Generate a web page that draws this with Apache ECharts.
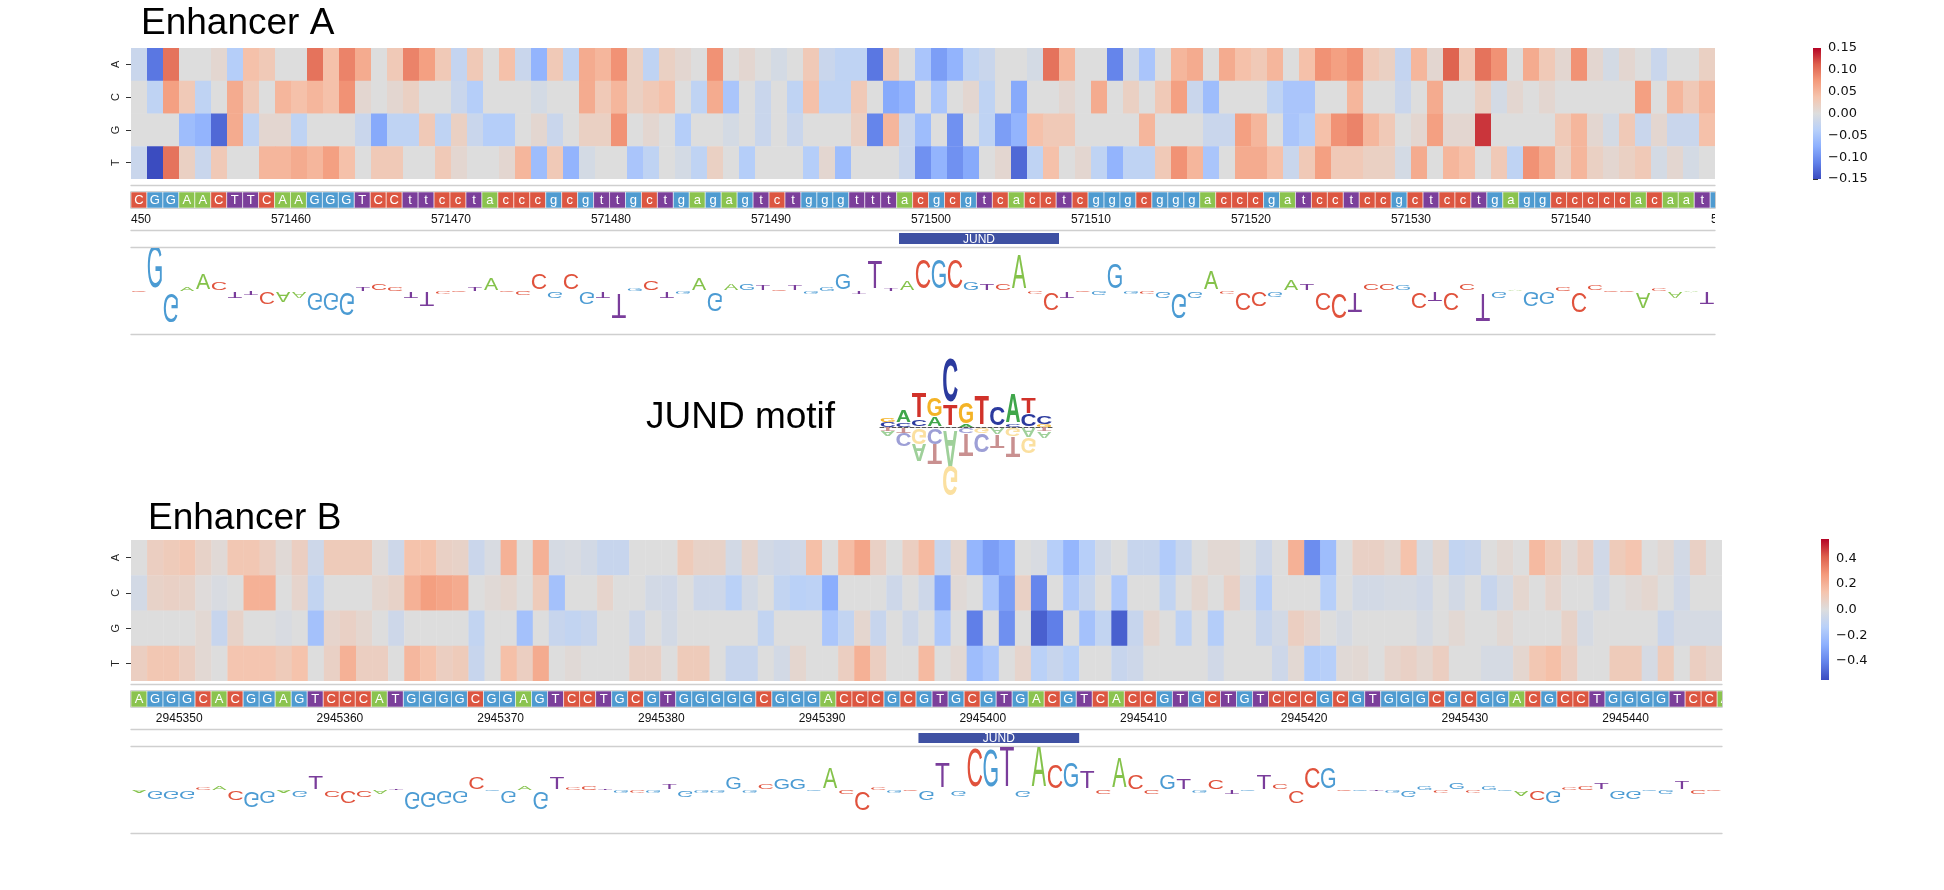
<!DOCTYPE html>
<html>
<head>
<meta charset="utf-8">
<title>Enhancer attribution maps</title>
<script src="https://cdn.jsdelivr.net/npm/echarts@6/dist/echarts.min.js"></script>
<style>
  html, body { margin: 0; padding: 0; background: #fff; }
  #chart { width: 1944px; height: 890px; }
</style>
</head>
<body>
<div id="chart"></div>
<script>
// ---- data ----
const bases = ['A', 'C', 'G', 'T'];

// Enhancer A: mutagenesis scores per base (99 columns), first column = 571450
const startA = 571450;
const seqA = 'CGGAACTTCAAGGGTCCttcctacccgcgttgctgagagtctgggtttacgcgtcacctcgggcgggacccgatcctccgctcctgaggcccccacaatg';
const heatA_A = [-0.02,-0.12,0.10,0,0,0.01,-0.04,0.04,0.03,0, 0,0.10,0.04,0.09,0.06,0,0.03,0.09,0.07,0.03,
  -0.025,0.03,0,0.04,-0.02,-0.07,0.03,-0.03,0.06,0.05, 0.08,0.02,-0.03,0.02,0.01,0,0.08,0,0.01,0,
  -0.01,0,0.03,-0.02,-0.03,-0.03,-0.12,0.03,0,-0.05, -0.09,-0.07,-0.03,-0.02,0,0,-0.01,0.10,0.05,0,
  0,-0.11,-0.01,-0.05,0,0.05,0.06,0,0.06,0.04, 0.03,0.05,0,0.04,0.08,0.07,0.08,0.03,0.02,-0.025,
  0.05,0.01,0.11,0.03,0.10,0.08,0,0.06,0.03,0.01, 0.08,0.01,-0.01,0.01,0,-0.02,0,0,0.02];
const heatA_C = [0,-0.03,0.07,0.03,-0.03,0,0.06,0.03,0,0.05, 0.04,0.05,0.04,0.08,0.01,0,0.01,0.02,0,0,
  -0.02,-0.04,0,0,0,-0.01,0,0,0.06,0.03, 0.05,0.02,0.03,0.04,0,-0.03,0.06,-0.05,0,-0.02,
  0,-0.03,0.04,-0.03,-0.03,0.03,0,-0.08,-0.07,0, -0.05,0,0.01,-0.03,0,-0.08,0,0,0.01,0,
  0.06,0,0.02,0,0.03,0.07,-0.02,-0.06,0,0, 0,-0.03,-0.05,-0.05,0,0,0.05,0,0,-0.02,
  0,0.06,0,0,0.02,-0.01,0.01,0,0.01,0, 0,0,0,0,0.07,0,0.05,0.03,0.05];
const heatA_G = [0,0,0,-0.06,-0.07,-0.13,0.06,-0.03,0.01,0.01, -0.03,0,0,0,-0.02,-0.08,-0.03,-0.03,0.03,-0.03,
  0.02,-0.02,-0.04,-0.04,0,0.01,-0.02,0,0.02,0.02, 0.08,0,0.01,0,-0.04,0,0,-0.01,0,-0.02,
  0,-0.02,0,0,0,0.02,-0.11,0.05,-0.02,-0.06, 0,-0.10,0,-0.03,-0.09,-0.07,0.04,0.03,0.03,0,
  0,0,0,0.05,0,0,0,-0.02,-0.02,0.07, 0.05,0,-0.05,-0.04,0.04,0.08,0.09,0.05,0.03,0,
  0.01,0.07,0.01,0.01,0.13,0,0,0,0,0.03, 0.05,0.01,-0.01,0.03,-0.02,0.01,-0.02,-0.02,0.04];
const heatA_T = [-0.02,-0.15,0.10,0.02,-0.02,0.03,0,0,0.05,0.05, 0.06,0.05,0.07,0.04,0,0.03,0.03,0,0,0.03,
  0.01,0,0,0.01,0.05,-0.06,0.03,-0.07,-0.01,0, 0,-0.05,-0.03,0,-0.01,-0.03,0.02,0,-0.04,0,
  0,0,-0.04,0.01,-0.06,0,0,0,-0.02,-0.10, -0.07,-0.10,-0.08,0,0.01,-0.13,-0.03,0.04,0,0.01,
  -0.03,-0.07,-0.03,-0.03,0.03,0.08,0.05,-0.05,0,0.06, 0.06,0.04,-0.02,0.03,0.07,0.03,0.03,0.02,0.02,-0.01,
  0.06,0,0.05,0.04,0,0.03,-0.03,0.08,0.06,0.02, 0.05,0.02,0.01,0.02,0.03,-0.01,0.01,-0.01,0];
// attribution of the reference base (letter height, signed)
const logoA = [-0.015,0.41,-0.29,0.04,0.16,0.08,-0.06,-0.04,-0.11,-0.10,
  -0.06,-0.17,-0.17,-0.22,0.04,0.06,0.04,-0.06,-0.14,-0.03,
  -0.01,0.04,0.11,-0.01,-0.04,0.16,-0.07,0.16,-0.11,-0.06,
  -0.24,0.02,0.09,-0.06,-0.03,0.11,-0.18,0.06,0.06,0.05,
  0.01,0.05,-0.02,0.04,0.16,-0.03,0.27,0.02,0.09,0.28,
  0.28,0.29,0.08,0.06,0.07,0.33,-0.02,-0.17,-0.06,-0.01,
  -0.04,0.24,-0.03,-0.03,-0.06,-0.24,-0.06,0.18,-0.03,-0.17,
  -0.14,-0.05,0.10,0.06,-0.17,-0.24,-0.19,0.06,0.06,0.05,
  -0.16,-0.09,-0.17,0.06,-0.27,-0.07,0.01,-0.14,-0.12,0.04,
  -0.19,0.05,-0.01,-0.01,-0.16,0.02,-0.07,-0.01,-0.11];
const rulerA = [571450,571460,571470,571480,571490,571500,571510,571520,571530,571540,571550];
const jundA = [571498, 571508];
const cbarTicksA = [-0.15,-0.10,-0.05,0,0.05,0.10,0.15];

// Enhancer B, first column = 2945347
const startB = 2945347;
const seqB = 'AGGGCACGGAGTCCCATGGGGCGGAGTCCTGCGTGGGGGCGGGACCCGCGTGCGTGACGTCACCGTGCTGTCCCGCGTGGGCGCGGACGCCTGGGGTCCA';
const heatB_A = [0,0.08,0.10,0.12,0.06,0.02,0.12,0.12,0.08,0.02, 0.08,-0.06,0.10,0.10,0.10,0.01,-0.06,0.14,0.14,0.07,
  0.06,-0.07,-0.02,0.20,0,0.20,-0.03,-0.02,-0.04,-0.08, -0.08,0,0,0,0.10,0.06,0.06,-0.04,0.05,-0.04,
  -0.06,-0.05,0.15,0,0.16,0.24,0.07,0,0.08,0.17, -0.08,0.04,-0.25,-0.33,-0.28,0,-0.02,-0.14,-0.25,-0.14,
  -0.04,0,-0.08,-0.08,-0.16,-0.08,0,0.03,0.03,0, -0.06,0,0.20,-0.38,-0.22,0,0.07,0.07,0.04,0.14,
  -0.03,0.04,-0.10,-0.08,0,0.03,0,0.17,0.10,0.02, 0.08,-0.05,0.10,0.13,0,0.03,-0.04,0.07,0];
const heatB_C = [-0.04,0.06,0.07,0.06,0.01,-0.02,0,0.20,0.20,0, 0.05,-0.10,0,0,0,0.04,0.06,0.20,0.26,0.24,
  0.22,0,0.02,0.04,0,0.10,-0.20,0,0,0.05, 0,0,-0.04,-0.05,0,-0.06,-0.06,-0.13,-0.04,0,
  -0.10,-0.13,-0.12,-0.28,0,0,0,-0.06,0,-0.06, -0.30,0.02,0,-0.18,-0.33,0.07,-0.40,0,-0.17,-0.08,
  0,-0.17,0,0,-0.10,0,0.04,0,0.07,-0.03, -0.14,0,0,0,-0.14,0,-0.04,-0.04,-0.03,-0.03,
  -0.05,0,-0.04,0,-0.08,-0.03,0.04,0,0.05,0, 0,-0.04,0,0.02,0.04,0,-0.05,0,0];
const heatB_G = [0,0,0,0,0.03,-0.08,0.06,0,0,-0.02, 0,-0.20,0.05,0.07,0.04,0,-0.06,0,0,0,
  0,-0.10,0,0,-0.20,0,-0.08,-0.10,-0.08,0, 0,-0.06,0,-0.04,0,0,0,0,0,-0.10,
  0,0,0,-0.18,-0.10,0.04,-0.08,0,-0.06,0, -0.17,0,-0.42,0,-0.37,0,-0.50,-0.42,0,-0.20,
  -0.10,-0.50,-0.08,0.04,0,-0.12,0,-0.15,0,0, -0.08,-0.04,0.08,0.05,0,-0.03,0,0,0,0,
  -0.03,0,0.03,0,0,0.03,0,0,0,0.06, -0.03,0,0,0,0,-0.07,-0.03,-0.03,-0.03];
const heatB_T = [0.08,0.12,0.12,0.08,0.03,0,0.13,0.13,0.13,0.10, 0.14,0,0.07,0.20,0.08,0.08,0,0.18,0.14,0.08,
  0.10,-0.08,0,0.15,0.08,0.22,0,0.02,0,0, 0,0.07,0.07,0,0.10,0.10,0,-0.08,-0.08,0,
  -0.04,0.04,0,0,0.08,0.20,0.08,0,0,0.17, 0,0.03,-0.22,-0.17,0,0.05,-0.13,-0.08,-0.13,0,
  0,-0.08,-0.06,0,0,0,0,-0.05,0,0, 0,-0.06,0.03,-0.15,-0.14,0.02,0.03,0,0.05,0.07,
  0.04,0.08,0,0,-0.03,-0.03,0.04,0.12,0.15,0.08, 0,0,0.10,0.10,-0.03,0.10,0,0.08,0.05];
const logoB = [-0.03,-0.08,-0.08,-0.08,0.03,0.04,-0.09,-0.15,-0.12,-0.03,
  -0.07,0.13,-0.06,-0.12,-0.06,-0.04,0.01,-0.17,-0.15,-0.13,
  -0.12,0.11,-0.01,-0.12,0.04,-0.17,0.12,0.03,0.04,0.01,
  -0.02,-0.02,-0.02,0.05,-0.06,-0.02,-0.02,0.11,-0.02,0.05,
  0.10,0.10,-0.01,0.21,-0.04,-0.18,0.03,-0.03,-0.01,-0.09,
  0.25,-0.05,0.37,0.36,0.40,-0.06,0.41,0.23,0.24,0.17,
  -0.04,0.30,0.14,-0.04,0.14,0.10,-0.03,0.09,-0.04,-0.01,
  0.14,0.05,-0.11,0.21,0.21,-0.01,-0.01,-0.01,-0.02,-0.07,
  0.04,-0.03,0.07,-0.02,0.04,-0.01,-0.05,-0.09,-0.11,0.03,
  0.04,0.07,-0.08,-0.08,-0.01,-0.04,0.08,-0.04,-0.01];
const rulerB = [2945350,2945360,2945370,2945380,2945390,2945400,2945410,2945420,2945430,2945440,2945450];
const jundB = [2945396, 2945406];
const cbarTicksB = [-0.4,-0.2,0,0.2,0.4];

// JUND motif: per column, letters stacked up from the baseline and down from it (bits)
const motifAbove = [
  [['C',0.23],['G',0.22]], [['C',0.2],['A',0.6]], [['C',0.35],['T',1.25]], [['A',0.45],['G',0.9]],
  [['T',1.05],['C',2.15]], [['A',0.1],['G',1.0]], [['T',1.45]], [['C',0.9]],
  [['C',0.1],['A',1.4]], [['C',0.6],['T',0.75]], [['G',0.1],['C',0.4]]
];
const motifBelow = [
  [['T',0.18],['A',0.25]], [['T',0.25],['C',0.65]], [['G',0.75],['A',0.85]], [['C',0.75],['T',1.0]],
  [['A',1.8],['G',1.5]], [['C',0.25],['T',1.1]], [['G',0.25],['C',0.9]], [['A',0.35],['T',0.65]],
  [['G',0.4],['T',1.0]], [['A',0.45],['G',0.8]], [['T',0.2],['A',0.3]]
];

// ---- styling ----
const FONT = '"Liberation Sans", Arial, Helvetica, sans-serif';
const SEQ_COL = { A: '#8bc34f', C: '#dc5641', G: '#4f9bd0', T: '#7b3f9a' };
const LOGO_COL = { A: '#84c24a', C: '#e0523c', G: '#4b9bd3', T: '#7a3d9b' };
const MOTIF_COL = { A: '#3fa64a', C: '#2b3a9e', G: '#f4b326', T: '#d1322a' };
const MOTIF_FADE = { A: '#9fd09a', C: '#9d9fd6', G: '#fbe0a0', T: '#c99090' };
const INK = { A: 0.66, C: 0.62, G: 0.66, T: 0.58 };
const CAP = 0.70;
const COOLWARM = ['#3b4cc0','#6282ea','#8db0fe','#b8d0f9','#dddddd','#f5c4ad','#f49a7b','#de604d','#b40426'];
const SEP = { color: '#cfcfcf', width: 1.3 };

function hexRgb(h) { return [1, 3, 5].map(k => parseInt(h.substr(k, 2), 16)); }
const CW_RGB = COOLWARM.map(hexRgb);
function cmap(v, vmax) {
  let t = (v + vmax) / (2 * vmax);
  t = Math.max(0, Math.min(1, t)) * (CW_RGB.length - 1);
  const i = Math.min(CW_RGB.length - 2, Math.floor(t)), f = t - i;
  const a = CW_RGB[i], b = CW_RGB[i + 1];
  return 'rgb(' + a.map((c, k) => Math.round(c + (b[k] - c) * f)).join(',') + ')';
}
function gradient() {
  return new echarts.graphic.LinearGradient(0, 1, 0, 0,
    COOLWARM.map((c, i) => ({ offset: i / (COOLWARM.length - 1), color: c })));
}
function txt(x, y, text, font, fill, extra) {
  return Object.assign({
    type: 'text', x: x, y: y,
    style: { text: text, font: font, fill: fill, align: 'center', verticalAlign: 'middle',
             textAlign: 'center', textVerticalAlign: 'middle' }
  }, extra || {});
}
// one stretched letter between two y pixels; flipped when it hangs below the baseline
function glyph(letter, cx, yA, yB, colW, fill, flip, bold) {
  const h = Math.max(0.6, Math.abs(yB - yA));
  const sx = colW * 0.88 / (INK[letter] * 100);
  const sy = h / (CAP * 100);
  return txt(cx, (yA + yB) / 2, letter, (bold ? 'bold ' : '') + '100px ' + FONT, fill,
    { scaleX: sx, scaleY: flip ? -sy : sy });
}

// ---- series renderers ----
function heatRender(vmax) {
  return function (params, api) {
    const col = api.value(0), row = api.value(1);
    const p0 = api.coord([col, row]), p1 = api.coord([col + 1, row]);
    const bh = api.size([0, 1])[1];
    return { type: 'rect', shape: { x: p0[0], y: p0[1] - bh / 2, width: p1[0] - p0[0] + 0.4, height: bh + 0.4 },
             style: { fill: cmap(api.value(2), vmax) } };
  };
}
function seqRender(seq) {
  return function (params, api) {
    const i = params.dataIndex, ch = seq[i];
    const p0 = api.coord([i, 1]), p1 = api.coord([i + 1, 0]);
    return { type: 'group', children: [
      { type: 'rect', shape: { x: p0[0], y: p0[1], width: p1[0] - p0[0], height: p1[1] - p0[1] },
        style: { fill: SEQ_COL[ch.toUpperCase()], stroke: 'rgba(255,255,255,0.55)', lineWidth: 1 } },
      txt((p0[0] + p1[0]) / 2, (p0[1] + p1[1]) / 2 + 0.5, ch, '13px ' + FONT, '#fff')
    ] };
  };
}
function rulerRender(start) {
  return function (params, api) {
    const v = api.value(0);
    const p = api.coord([v - start, 0]);
    return txt(p[0], p[1], String(v), '12px ' + FONT, '#111');
  };
}
function siteRender(start) {
  return function (params, api) {
    const p0 = api.coord([api.value(0) - start, 1]), p1 = api.coord([api.value(1) - start, 0]);
    return { type: 'group', children: [
      { type: 'rect', shape: { x: p0[0], y: p0[1], width: p1[0] - p0[0], height: p1[1] - p0[1] },
        style: { fill: '#3f51a3' } },
      txt((p0[0] + p1[0]) / 2, (p0[1] + p1[1]) / 2 + 1, 'JUND', '12px ' + FONT, '#fff')
    ] };
  };
}
function logoRender(seq, vals) {
  return function (params, api) {
    const i = params.dataIndex, v = vals[i], L = seq[i].toUpperCase();
    const base = api.coord([i + 0.5, 0]), top = api.coord([i + 0.5, v]);
    const colW = api.size([1, 0])[0];
    return glyph(L, base[0], base[1], top[1], colW, LOGO_COL[L], v < 0, false);
  };
}
function cbarRender(vmax) {
  return function (params, api) {
    const p0 = api.coord([0, vmax]), p1 = api.coord([1, -vmax]);
    return { type: 'rect', shape: { x: p0[0], y: p0[1], width: p1[0] - p0[0], height: p1[1] - p0[1] },
             style: { fill: gradient() } };
  };
}

// motif glyph list built by stacking the column heights
const motifGlyphs = [];
motifAbove.forEach((stack, c) => {
  let y = 0;
  stack.forEach(([L, h]) => { motifGlyphs.push({ c, L, y0: y, y1: y + h, fade: false }); y += h; });
});
motifBelow.forEach((stack, c) => {
  let y = 0;
  stack.forEach(([L, h]) => { motifGlyphs.push({ c, L, y0: y, y1: y - h, fade: true }); y -= h; });
});
function motifRender(params, api) {
  const g = motifGlyphs[params.dataIndex];
  const a = api.coord([g.c + 0.5, g.y0]), b = api.coord([g.c + 0.5, g.y1]);
  const colW = api.size([1, 0])[0];
  return glyph(g.L, a[0], a[1], b[1], colW, g.fade ? MOTIF_FADE[g.L] : MOTIF_COL[g.L], g.fade, true);
}

// ---- layout ----
const grids = [
  { left: 131, top: 48,  width: 1584, height: 131 },  // 0 heat A
  { left: 131, top: 192, width: 1584, height: 16 },   // 1 seq A
  { left: 131, top: 210, width: 1584, height: 20 },   // 2 ruler A
  { left: 131, top: 233, width: 1584, height: 11 },   // 3 JUND A
  { left: 131, top: 248, width: 1584, height: 86 },   // 4 logo A
  { left: 1813, top: 48, width: 8, height: 131 },     // 5 colorbar A
  { left: 880, top: 352, width: 172, height: 150 },   // 6 motif
  { left: 131, top: 540, width: 1591, height: 141 },  // 7 heat B
  { left: 131, top: 691, width: 1591, height: 16 },   // 8 seq B
  { left: 131, top: 709, width: 1591, height: 20 },   // 9 ruler B
  { left: 131, top: 733, width: 1591, height: 10 },   // 10 JUND B
  { left: 131, top: 747, width: 1591, height: 86 },   // 11 logo B
  { left: 1821, top: 539, width: 8, height: 141 }     // 12 colorbar B
];
grids[1].show = grids[8].show = true;
grids[1].borderColor = grids[8].borderColor = '#a8a8a8';
grids[1].borderWidth = grids[8].borderWidth = 1.2;

function vAxis(g, min, max, extra) {
  return Object.assign({ type: 'value', gridIndex: g, min: min, max: max,
    axisLine: { show: false }, axisTick: { show: false }, axisLabel: { show: false }, splitLine: { show: false } }, extra || {});
}
function lineAxis(g, min, max, offset) {
  return vAxis(g, min, max, { position: 'bottom', offset: offset,
    axisLine: { show: true, onZero: false, lineStyle: SEP } });
}
function rowAxis(g) {
  return { type: 'category', gridIndex: g, data: bases, inverse: true,
    axisLine: { show: false },
    axisTick: { show: true, alignWithLabel: true, length: 5, lineStyle: { color: '#333' } },
    axisLabel: { rotate: 90, fontSize: 11, fontFamily: FONT, color: '#222', margin: 10 },
    splitLine: { show: false } };
}
function cbarAxis(g, vmax, ticks, dec) {
  return vAxis(g, -vmax, vmax, { position: 'right',
    axisTick: { show: true, length: 5, lineStyle: { color: '#333' }, customValues: ticks },
    axisLabel: { show: true, customValues: ticks, fontFamily: '"DejaVu Sans"', fontSize: 13, color: '#111', margin: 7,
      formatter: v => (v < -1e-9 ? '\u2212' : '') + Math.abs(v).toFixed(dec) } });
}

const xAxes = [
  lineAxis(0, 0, 99, 6),
  vAxis(1, 0, 99.3),
  lineAxis(2, 0, 99, 0),
  lineAxis(3, 0, 99, 3),
  lineAxis(4, 0, 99, 0),
  vAxis(5, 0, 1),
  vAxis(6, 0, 11, { axisLine: { show: true, onZero: true, lineStyle: { color: '#555', type: 'dashed', width: 1 } } }),
  lineAxis(7, 0, 99, 3),
  vAxis(8, 0, 99.3),
  lineAxis(9, 0, 99, 0),
  lineAxis(10, 0, 99, 3),
  lineAxis(11, 0, 99, 0),
  vAxis(12, 0, 1)
];
const yAxes = [
  rowAxis(0),
  vAxis(1, 0, 1),
  vAxis(2, -1, 1),
  vAxis(3, 0, 1),
  vAxis(4, -0.43, 0.43),
  cbarAxis(5, 0.15, cbarTicksA, 2),
  vAxis(6, -3.75, 3.75),
  rowAxis(7),
  vAxis(8, 0, 1),
  vAxis(9, -1, 1),
  vAxis(10, 0, 1),
  vAxis(11, -0.43, 0.43),
  cbarAxis(12, 0.55, cbarTicksB, 1)
];

function heatData(rows) {
  const out = [];
  rows.forEach((r, ri) => r.forEach((v, c) => out.push([c, ri, v])));
  return out;
}
function custom(g, data, render) {
  return { type: 'custom', coordinateSystem: 'cartesian2d', xAxisIndex: g, yAxisIndex: g,
           clip: true, silent: true, animation: false, data: data, renderItem: render };
}

const series = [
  custom(0, heatData([heatA_A, heatA_C, heatA_G, heatA_T]), heatRender(0.15)),
  custom(1, seqA.split('').map((c, i) => [i + 0.5, 0.5]), seqRender(seqA)),
  custom(2, rulerA.map(v => [v]), rulerRender(startA)),
  custom(3, [jundA], siteRender(startA)),
  custom(4, logoA.map((v, i) => [i + 0.5, v]), logoRender(seqA, logoA)),
  custom(5, [[0.5, 0]], cbarRender(0.15)),
  custom(6, motifGlyphs.map(g => [g.c + 0.5, g.y1]), motifRender),
  custom(7, heatData([heatB_A, heatB_C, heatB_G, heatB_T]), heatRender(0.55)),
  custom(8, seqB.split('').map((c, i) => [i + 0.5, 0.5]), seqRender(seqB)),
  custom(9, rulerB.map(v => [v]), rulerRender(startB)),
  custom(10, [jundB], siteRender(startB)),
  custom(11, logoB.map((v, i) => [i + 0.5, v]), logoRender(seqB, logoB)),
  custom(12, [[0.5, 0]], cbarRender(0.55))
];
series[6].clip = false;

const titleStyle = { fontSize: 37, fontWeight: 'normal', fontFamily: FONT, color: '#000' };
const chart = echarts.init(document.getElementById('chart'), null, { renderer: 'canvas' });
chart.setOption({
  backgroundColor: '#fff',
  animation: false,
  title: [
    { text: 'Enhancer A', left: 141, top: 5, padding: 0, textStyle: titleStyle },
    { text: 'Enhancer B', left: 148, top: 500, padding: 0, textStyle: titleStyle },
    { text: 'JUND motif', left: 646, top: 399, padding: 0, textStyle: titleStyle }
  ],
  grid: grids,
  xAxis: xAxes,
  yAxis: yAxes,
  series: series
});
window.addEventListener('resize', () => chart.resize());
</script>
</body>
</html>
